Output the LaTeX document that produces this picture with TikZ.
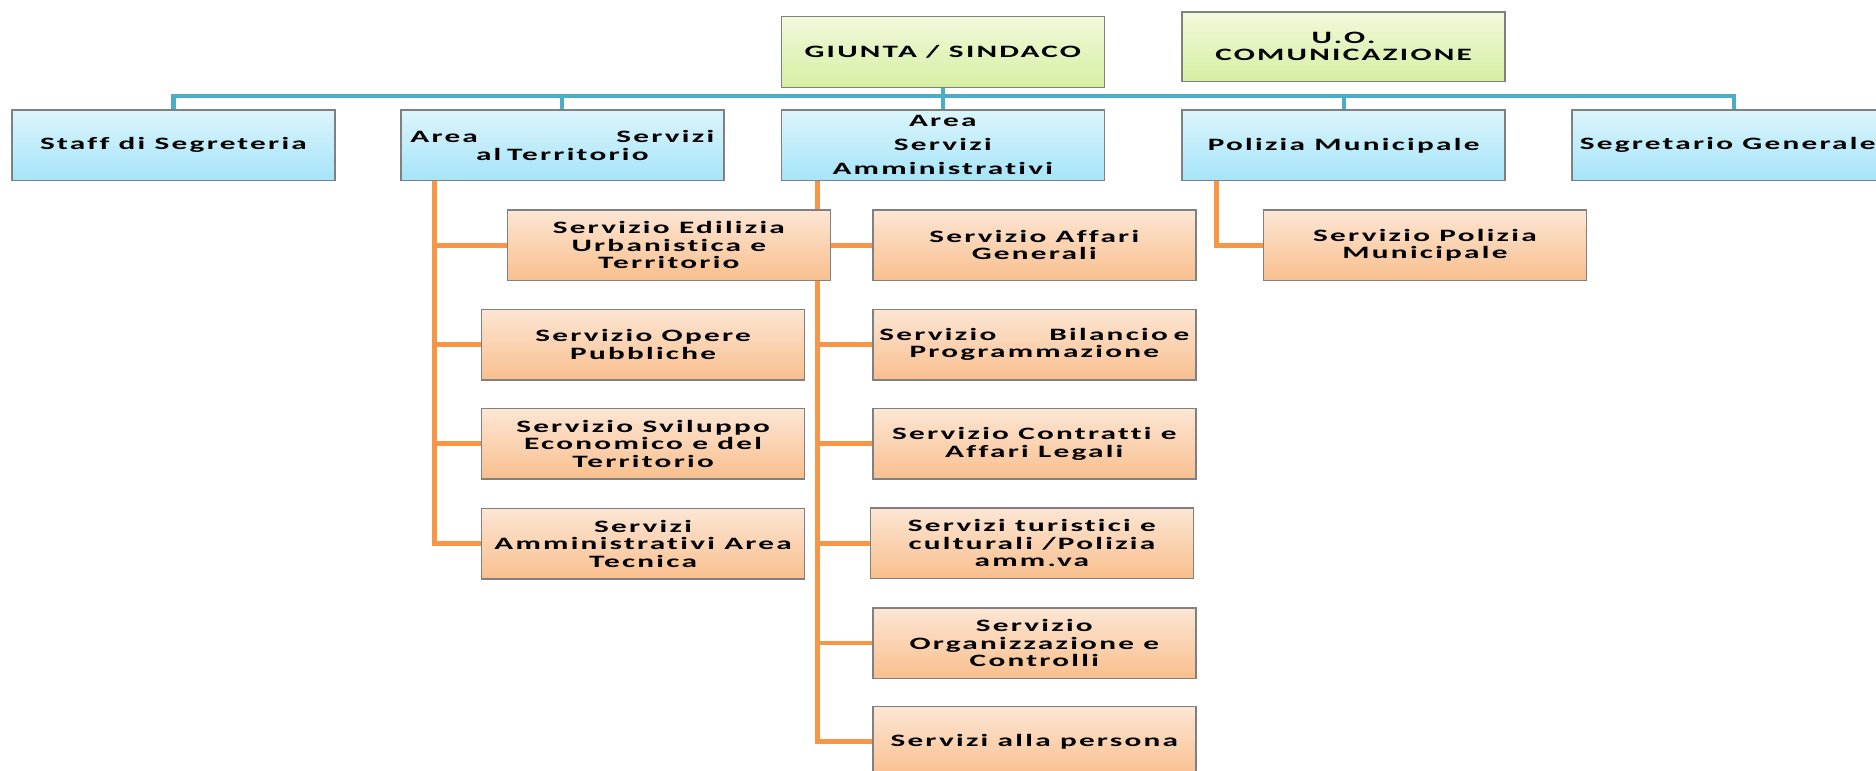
\documentclass[tikz,border=0pt]{standalone}
\usepackage{fontspec}
\newfontfamily\boxfont[FakeStretch=1.8,LetterSpace=13,Ligatures={NoCommon}]{Carlito}
\definecolor{bline}{HTML}{4BACC6}
\definecolor{oline}{HTML}{F79646}
\definecolor{bord}{HTML}{808080}
\definecolor{btop}{HTML}{DCF5FC}
\definecolor{bbot}{HTML}{A5E4F8}
\definecolor{gtop}{HTML}{F1F9DC}
\definecolor{gbot}{HTML}{D6EFA2}
\definecolor{otop}{HTML}{FCE6D4}
\definecolor{obot}{HTML}{F9BF8E}
\pgfdeclarelayer{bg}
\pgfsetlayers{bg,main}
\tikzset{
  box/.style={draw=bord, line width=1.2pt, minimum width=270pt, minimum height=59pt,
    inner sep=4pt, align=center, font=\boxfont\bfseries\fontsize{14.5}{14.5}\selectfont},
  bluebox/.style={box, top color=btop, bottom color=bbot},
  greenbox/.style={box, top color=gtop, bottom color=gbot},
  orangebox/.style={box, top color=otop, bottom color=obot},
  bconn/.style={draw=bline, line width=3.5pt},
  oconn/.style={draw=oline, line width=4pt},
}
\begin{document}
\begin{tikzpicture}[x=1pt,y=-1pt]
\useasboundingbox (0,0) rectangle (1568,644);
\begin{scope}
\clip (0,0) rectangle (1568,644);
% level 1
\node[greenbox] (giunta) at (788,43.5) {GIUNTA / SINDACO};
\node[greenbox, minimum height=58pt] (uo) at (1123,39) {U.O.\\COMUNICAZIONE};
% level 2
\node[bluebox] (staff) at (145,121.5) {Staff di Segreteria};
\node[bluebox, text width=254pt] (areaterr) at (470,121.5) {Area\hfill Servizi\\al Territorio};
\node[bluebox, font=\boxfont\bfseries\fontsize{14.5}{20}\selectfont] (areaamm) at (788,121.5) {Area\\Servizi\\Amministrativi};
\node[bluebox] (polizia) at (1123,121.5) {Polizia Municipale};
\node[bluebox] (segr) at (1449,121.5) {Segretario Generale\hspace*{10pt}};
% left column
\node[orangebox] (edil) at (559,205) {Servizio Edilizia\\Urbanistica e\\Territorio};
\node[orangebox] (opere) at (537.5,288) {Servizio Opere\\Pubbliche};
\node[orangebox] (svil) at (537.5,371) {Servizio Sviluppo\\Economico e del\\Territorio};
\node[orangebox] (amt) at (537.5,454.5) {Servizi\\Amministrativi Area\\Tecnica};
% right column
\node[orangebox] (affari) at (864.5,205) {Servizio Affari\\Generali};
\node[orangebox, text width=259pt] (bilancio) at (864.5,288) {Servizio\hfill Bilancio e\\Programmazione};
\node[orangebox] (contratti) at (864.5,371) {Servizio Contratti e\\Affari Legali};
\node[orangebox] (turistici) at (862.5,454) {Servizi turistici e\\culturali /Polizia\\amm.va};
\node[orangebox] (organ) at (864.5,537.5) {Servizio\\Organizzazione e\\Controlli};
\node[orangebox] (persona) at (864.5,620) {Servizi alla persona};
% polizia
\node[orangebox] (spm) at (1191,205) {Servizio Polizia\\Municipale};
% connectors
\coordinate (bus) at (788,80);
\coordinate (lt) at (363,151);
\coordinate (la) at (683,151);
\coordinate (lp) at (1017,151);
\begin{pgfonlayer}{bg}
\draw[bconn] (staff.north) |- (segr.north |- bus) -- (segr.north);
\draw[bconn] (giunta.south) -- (areaamm.north);
\draw[bconn] (areaterr.north) -- (areaterr.north |- bus);
\draw[bconn] (polizia.north) -- (polizia.north |- bus);
\draw[oconn] (lt) |- (amt.west);
\draw[oconn] (lt |- edil.west) -- (edil.west);
\draw[oconn] (lt |- opere.west) -- (opere.west);
\draw[oconn] (lt |- svil.west) -- (svil.west);
\draw[oconn] (la) |- (persona.west);
\draw[oconn] (la |- affari.west) -- (affari.west);
\draw[oconn] (la |- bilancio.west) -- (bilancio.west);
\draw[oconn] (la |- contratti.west) -- (contratti.west);
\draw[oconn] (la |- turistici.west) -- (turistici.west);
\draw[oconn] (la |- organ.west) -- (organ.west);
\draw[oconn] (lp) |- (spm.west);
\end{pgfonlayer}
\end{scope}
\end{tikzpicture}
\end{document}
